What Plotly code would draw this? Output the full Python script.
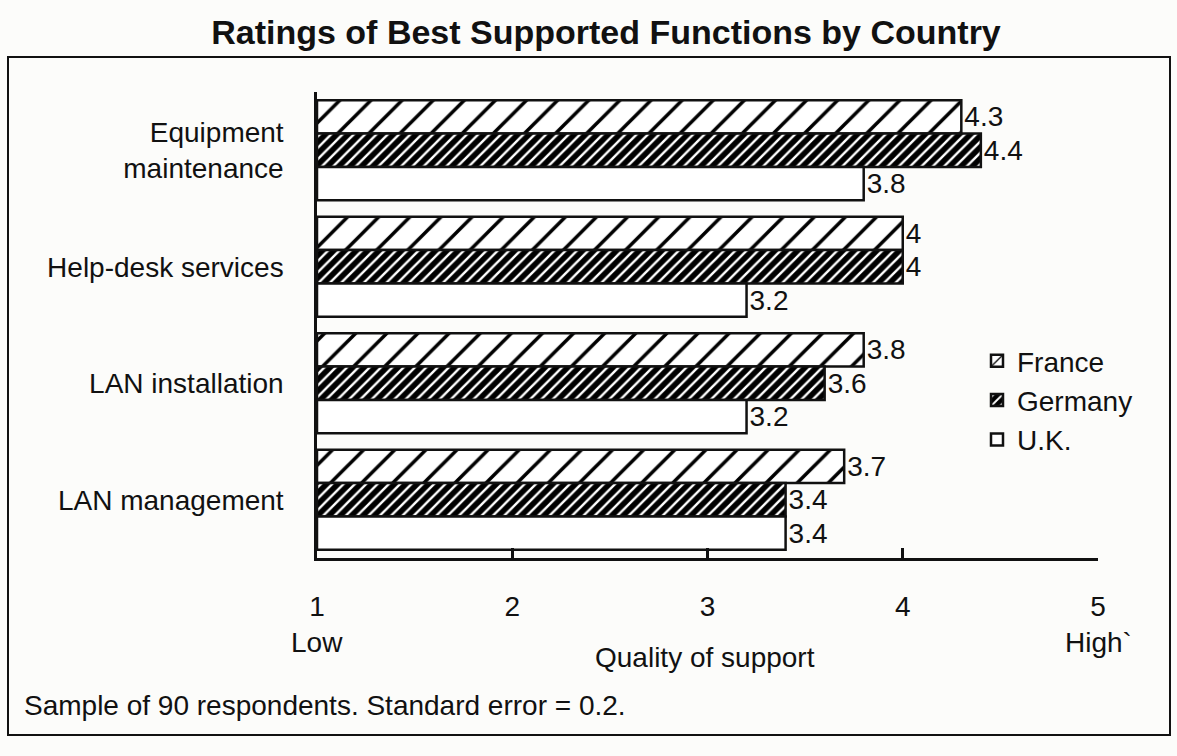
import plotly.graph_objects as go

categories = ["Equipment<br>maintenance", "Help-desk services", "LAN installation", "LAN management"]
series_names = ["France", "Germany", "U.K."]
france = [4.3, 4.0, 3.8, 3.7]
germany = [4.4, 4.0, 3.6, 3.4]
uk = [3.8, 3.2, 3.2, 3.4]
x_ticks = [1, 2, 3, 4, 5]
x_base = 1

FONT = "Liberation Sans, Arial, sans-serif"
INK = "#111111"
BG = "#fcfcfa"
FS = 28

L, R, T, B = 317, 1098, 92, 558
W, H = 1177, 756
pw, ph = R - L, B - T


def px(x):
    return (x - L) / pw


def py(y):
    return (B - y) / ph


styles = [
    dict(color="white", pattern=dict(shape="/", bgcolor="white", fgcolor="#000000", fgopacity=1,
                                     size=22, solidity=0.16)),
    dict(color="#000000", pattern=dict(shape="/", bgcolor="#000000", fgcolor="#ffffff", fgopacity=1,
                                       size=8, solidity=0.3)),
    dict(color="white", pattern=dict(shape="", bgcolor="white")),
]

fig = go.Figure()
for name, vals, st in zip(series_names, [france, germany, uk], styles):
    fig.add_trace(go.Bar(
        name=name, y=categories, x=[v - x_base for v in vals], base=x_base, orientation="h",
        marker=dict(color=st["color"], pattern=st["pattern"], line=dict(color=INK, width=2.5)),
        text=[f"{v:g}" for v in vals], textposition="outside", constraintext="none",
        textfont=dict(family=FONT, size=FS, color=INK), cliponaxis=False,
    ))

fig.update_layout(
    width=W, height=H,
    margin=dict(l=L, r=W - R, t=T, b=H - B, autoexpand=False),
    paper_bgcolor=BG, plot_bgcolor=BG,
    barmode="group", bargap=0.14, bargroupgap=0,
    font=dict(family=FONT, color=INK, size=FS),
    title=dict(text="<b>Ratings of Best Supported Functions by Country</b>",
               x=606 / W, xanchor="center", y=1 - 32 / H, yanchor="middle",
               font=dict(family=FONT, size=34, color=INK)),
    showlegend=True,
    legend=dict(x=px(977), y=py(336), xanchor="left", yanchor="top",
                bgcolor="rgba(0,0,0,0)", font=dict(family=FONT, size=FS, color=INK),
                traceorder="normal", itemwidth=30),
    xaxis=dict(range=[1, 5], tickvals=x_ticks, ticktext=[str(v) for v in x_ticks],
               showgrid=False, zeroline=False, showline=True, linecolor=INK, linewidth=2.5,
               ticks="inside", ticklen=10, tickwidth=2.5, tickcolor=INK,
               ticklabelstandoff=22, tickfont=dict(family=FONT, size=FS, color=INK)),
    yaxis=dict(autorange="reversed", showgrid=False, zeroline=False, showline=True,
               linecolor=INK, linewidth=2.5, ticks="", ticklabelstandoff=25,
               tickfont=dict(family=FONT, size=FS, color=INK)),
)

fig.add_shape(type="rect", xref="paper", yref="paper",
              x0=px(8), x1=px(1170), y0=py(735), y1=py(57),
              line=dict(color=INK, width=2), fillcolor="rgba(0,0,0,0)", layer="below")

ann = dict(xref="paper", yref="paper", showarrow=False, font=dict(family=FONT, size=FS, color=INK))
fig.add_annotation(text="Low", x=px(317), y=py(642), xanchor="center", yanchor="middle", **ann)
fig.add_annotation(text="High`", x=px(1098), y=py(642), xanchor="center", yanchor="middle", **ann)
fig.add_annotation(text="Quality of support", x=px(705), y=py(657), xanchor="center", yanchor="middle", **ann)
fig.add_annotation(text="Sample of 90 respondents. Standard error = 0.2.", x=px(22), y=py(705),
                   xanchor="left", yanchor="middle", **ann)

fig.write_html("out.html", config={"displayModeBar": False},
               post_script="document.body.style.margin='0';")
